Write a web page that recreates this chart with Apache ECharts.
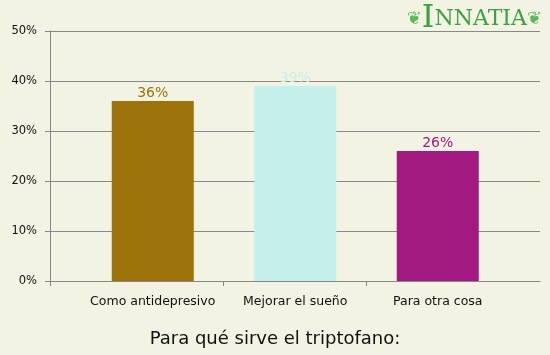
<!DOCTYPE html>
<html>
<head>
	<meta charset="utf-8" />
	<title>Para qué sirve el triptofano</title>
	<script src="https://cdn.jsdelivr.net/npm/echarts@6/dist/echarts.min.js"></script>
	<style>
		html, body { margin: 0; padding: 0; background: #f3f3e3; }
		#chart { width: 550px; height: 355px; }
	</style>
</head>
<body>
	<div id="chart"></div>
	<script type="text/javascript">
		const categories = ['Como antidepresivo', 'Mejorar el sueño', 'Para otra cosa'];
		const values = [36, 39, 26];
		const barColors = ['#9c720a', '#c5efeb', '#a21a80'];
		const yTicks = { min: 0, max: 50, interval: 10 };

		const chart = echarts.init(document.getElementById('chart'));

		const option = {
			backgroundColor: '#f3f3e3',
			animation: false,
			textStyle: { fontFamily: 'DejaVu Sans' },
			title: {
				text: 'Para qué sirve el triptofano:',
				left: 'center',
				top: 325,
				textStyle: { fontSize: 18, fontWeight: 'normal', color: '#111', fontFamily: 'DejaVu Sans' }
			},
			graphic: [{
				type: 'text',
				right: 8,
				top: 3,
				style: {
					text: '{o|❦}{big|I}{s|NNATIA}{o|❦}',
					rich: {
						big: { fontSize: 32, fill: '#3fa046', fontFamily: 'DejaVu Serif' },
						s: { fontSize: 22, fill: '#3fa046', fontFamily: 'DejaVu Serif' },
						o: { fontSize: 18, fill: '#5cb85c', fontFamily: 'DejaVu Sans' }
					}
				}
			}],
			grid: [
				{ left: 50, right: 10, top: 31, bottom: 74 },
				{ left: 81.5, right: 41, top: 31, bottom: 74 }
			],
			xAxis: [
				{
					// background axis spanning the full plot, in pixels from the y axis
					gridIndex: 0, type: 'value', min: 0, max: 490,
					axisLine: { show: true, lineStyle: { color: '#888' } },
					axisTick: { show: true, length: 5, customValues: [0, 173, 316], lineStyle: { color: '#888' } },
					axisLabel: { show: false }, splitLine: { show: false }
				},
				{
					gridIndex: 1, type: 'category', data: categories,
					axisLine: { show: false },
					axisTick: { show: false },
					axisLabel: { color: '#111', fontSize: 12.5, margin: 14, interval: 0 }
				}
			],
			yAxis: [
				{
					gridIndex: 0, type: 'value', min: yTicks.min, max: yTicks.max, interval: yTicks.interval,
					axisLine: { show: true, lineStyle: { color: '#888' } },
					axisTick: { show: true, length: 5, lineStyle: { color: '#888' } },
					axisLabel: { color: '#111', fontSize: 11.5, formatter: '{value}%', margin: 13 },
					splitLine: { show: true, lineStyle: { color: '#888', width: 1 } }
				},
				{
					gridIndex: 1, type: 'value', min: yTicks.min, max: yTicks.max, interval: yTicks.interval,
					show: false
				}
			],
			series: [{
				type: 'bar',
				xAxisIndex: 1,
				yAxisIndex: 1,
				barWidth: 82,
				z: 3,
				data: values.map(function (v, i) {
					return {
						value: v,
						itemStyle: { color: barColors[i] },
						label: { color: barColors[i] }
					};
				}),
				label: {
					show: true,
					position: 'top',
					distance: 1,
					fontSize: 14,
					formatter: '{c}%'
				}
			}]
		};

		chart.setOption(option);
	</script>
</body>
</html>
